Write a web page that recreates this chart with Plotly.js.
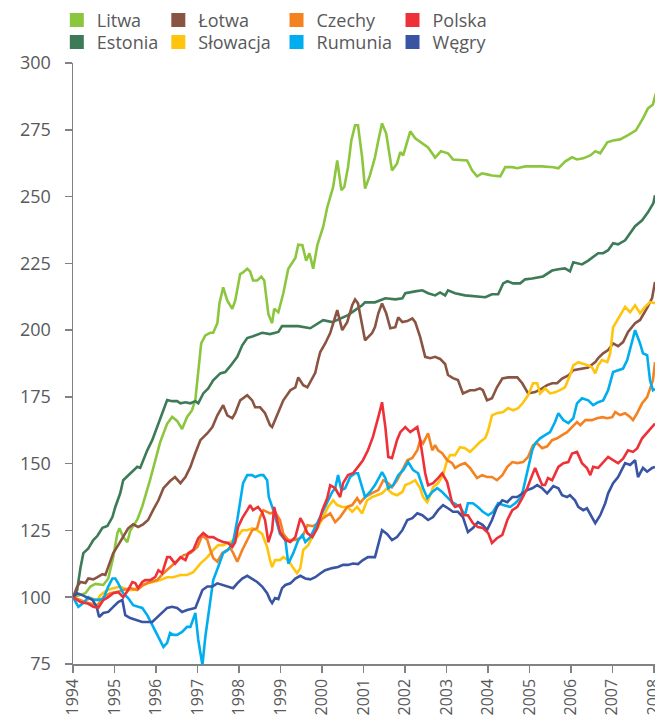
<!DOCTYPE html>
<html><head><meta charset="utf-8">
<script src="https://cdn.plot.ly/plotly-3.0.1.min.js"></script>
<style>html,body{margin:0;padding:0;background:#fff}#chart{width:655px;height:720px}</style>
</head><body><div id="chart"></div>
<script>
// tick labels
const years = [1994,1995,1996,1997,1998,1999,2000,2001,2002,2003,2004,2005,2006,2007,2008];
const yTicks = [75,100,125,150,175,200,225,250,275,300];

// series: [year, index value]
const litwa = [[1994.0,100],[1994.30,101.5],[1994.42,104],[1994.54,105],[1994.73,104.6],[1994.85,107],[1994.97,115],[1995.07,124],[1995.12,125.8],[1995.21,122.5],[1995.31,120.6],[1995.38,125],[1995.55,129],[1995.67,134],[1995.86,144],[1995.98,151],[1996.10,158],[1996.27,165],[1996.39,167.5],[1996.51,166],[1996.63,163],[1996.75,167.5],[1996.87,170],[1996.95,174],[1997.02,184],[1997.09,195],[1997.19,198],[1997.31,199],[1997.38,199],[1997.48,202.6],[1997.53,210],[1997.62,216],[1997.72,211],[1997.84,208],[1997.91,211],[1998.03,221],[1998.10,221.6],[1998.20,223],[1998.27,222],[1998.34,218.6],[1998.44,218.6],[1998.54,220],[1998.61,218.6],[1998.71,206],[1998.80,202.6],[1998.85,208],[1998.95,206.7],[1999.07,213.8],[1999.19,223],[1999.36,227],[1999.43,232],[1999.53,231.8],[1999.62,226],[1999.70,228.8],[1999.79,223],[1999.89,231.8],[2000.03,238.6],[2000.13,246],[2000.27,253.5],[2000.37,263.5],[2000.47,252.4],[2000.54,253.6],[2000.63,261],[2000.71,271],[2000.80,276.7],[2000.87,276.7],[2000.97,264.7],[2001.04,253],[2001.16,258],[2001.28,264.7],[2001.36,271],[2001.45,277.4],[2001.55,273.6],[2001.65,263.5],[2001.69,259.8],[2001.81,262.3],[2001.89,266.6],[2001.96,265.4],[2002.13,274.4],[2002.25,271.8],[2002.42,269.9],[2002.56,268.4],[2002.73,264.6],[2002.87,267],[2003.04,266.2],[2003.16,263.9],[2003.50,263.5],[2003.62,259.8],[2003.74,257.6],[2003.86,258.7],[2003.98,258.3],[2004.10,257.9],[2004.30,257.6],[2004.42,261],[2004.59,261],[2004.71,260.6],[2004.90,261.3],[2005.31,261.3],[2005.58,261],[2005.70,260.6],[2005.87,263.2],[2006.03,264.7],[2006.15,263.9],[2006.30,264.3],[2006.47,265.4],[2006.59,267],[2006.71,266.2],[2006.88,270.3],[2007.02,271],[2007.19,271.4],[2007.38,273],[2007.57,274.8],[2007.74,279.3],[2007.86,283],[2007.98,284.5],[2008.05,288.6]];

const estonia = [[1994.0,100],[1994.10,102.7],[1994.18,111],[1994.25,116.5],[1994.37,118.3],[1994.49,121.4],[1994.59,123],[1994.71,126],[1994.83,126.7],[1994.95,130],[1995.02,133.8],[1995.14,139],[1995.21,143.8],[1995.33,145.7],[1995.45,147.6],[1995.55,148.8],[1995.62,148.4],[1995.69,151.3],[1995.79,155],[1995.91,158.8],[1996.03,163.7],[1996.15,168.8],[1996.27,173.8],[1996.39,173.4],[1996.51,173.4],[1996.59,172.6],[1996.71,173],[1996.83,172.6],[1996.95,173.4],[1997.02,172.6],[1997.14,176.3],[1997.26,178.2],[1997.38,181.2],[1997.55,183.8],[1997.67,184.3],[1997.79,186.5],[1997.96,190],[1998.08,194.3],[1998.20,197],[1998.34,197.7],[1998.56,199],[1998.75,198.5],[1998.95,199.3],[1999.04,201.5],[1999.43,201.5],[1999.72,200.7],[2000.03,203.7],[2000.25,203],[2000.49,204.8],[2000.63,205.6],[2000.80,207.5],[2000.97,209.3],[2001.04,210.4],[2001.28,210.4],[2001.53,211.9],[2001.77,211.5],[2001.94,211.9],[2002.01,213.8],[2002.25,214.5],[2002.42,214.9],[2002.56,213.8],[2002.73,213],[2002.85,214.1],[2002.97,213],[2003.04,214.9],[2003.21,213.8],[2003.45,213],[2003.69,212.7],[2003.94,212.3],[2004.10,213.4],[2004.25,213.4],[2004.37,217.5],[2004.47,218.3],[2004.61,217.5],[2004.78,217.5],[2004.90,219],[2005.07,219.3],[2005.33,220.1],[2005.55,222.3],[2005.70,222.8],[2005.86,223.1],[2005.98,222],[2006.06,225.4],[2006.27,224.6],[2006.42,226],[2006.66,228.8],[2006.78,228.8],[2006.90,229.9],[2007.02,232.5],[2007.14,232.1],[2007.31,233.6],[2007.55,238.9],[2007.72,241.1],[2007.86,244.1],[2007.99,247.5],[2008.03,250.5]];

const lotwa = [[1994.0,100],[1994.10,104],[1994.18,105.7],[1994.30,105.3],[1994.37,107],[1994.49,106.7],[1994.59,107.5],[1994.71,108.6],[1994.78,108.3],[1994.85,111.3],[1994.97,116.5],[1995.09,119.5],[1995.21,122.5],[1995.33,125.8],[1995.45,127.3],[1995.57,126.3],[1995.69,127.3],[1995.81,128.9],[1995.93,132.6],[1996.06,136.3],[1996.18,140.8],[1996.34,143.5],[1996.46,145],[1996.59,142.7],[1996.71,145],[1996.83,148.8],[1996.95,154],[1997.07,158.8],[1997.24,161.4],[1997.36,163.7],[1997.48,168.1],[1997.55,170],[1997.62,171.9],[1997.72,168.1],[1997.84,167],[1997.91,168.9],[1998.03,173.7],[1998.20,175.6],[1998.32,173.7],[1998.39,171.1],[1998.51,171.1],[1998.63,168.9],[1998.75,164.4],[1998.80,163.7],[1998.92,168.1],[1999.07,173.7],[1999.24,177.5],[1999.36,178.6],[1999.43,182.3],[1999.55,179.4],[1999.65,178.6],[1999.77,182.3],[1999.84,184],[1999.91,188.8],[1999.96,191.8],[2000.08,195],[2000.20,198.9],[2000.37,207.5],[2000.49,200],[2000.61,203],[2000.73,209.3],[2000.80,211.5],[2000.87,210],[2001.04,196.2],[2001.21,198.9],[2001.28,201.1],[2001.36,206.3],[2001.45,210],[2001.55,206.3],[2001.65,200.7],[2001.77,201.1],[2001.84,204.8],[2001.94,203],[2002.06,203.4],[2002.18,204.4],[2002.25,203],[2002.37,197.4],[2002.49,190],[2002.61,189.5],[2002.73,190],[2002.85,189.2],[2002.97,187.3],[2003.04,183.2],[2003.16,182],[2003.28,181.3],[2003.40,176.3],[2003.57,177.5],[2003.69,177.5],[2003.81,178.2],[2003.88,177.5],[2003.98,173.7],[2004.10,174.5],[2004.22,178.6],[2004.35,181.9],[2004.49,182.3],[2004.71,182.3],[2004.83,180.1],[2004.97,176.3],[2005.14,176.8],[2005.31,178.2],[2005.43,179.4],[2005.55,180.1],[2005.67,180.1],[2005.79,181.9],[2005.94,183],[2006.06,185],[2006.27,185.6],[2006.42,186],[2006.59,188],[2006.66,189.5],[2006.78,191.3],[2006.90,192.5],[2007.02,195],[2007.14,194],[2007.26,195.5],[2007.38,199.3],[2007.55,202.6],[2007.67,203.8],[2007.84,208.3],[2007.96,212],[2008.03,218]];

const czechy = [[1994.0,100],[1994.18,99],[1994.37,97.8],[1994.59,97],[1994.73,100],[1994.90,101.5],[1995.07,102],[1995.21,102.7],[1995.38,103.4],[1995.55,102.7],[1995.69,104.6],[1995.86,105.7],[1996.03,106.4],[1996.18,109],[1996.34,111.3],[1996.51,113.9],[1996.66,115.7],[1996.83,116.5],[1997.00,118.8],[1997.12,123.3],[1997.24,121.4],[1997.31,117.7],[1997.38,114.7],[1997.48,113.3],[1997.60,116.6],[1997.72,117.7],[1997.79,118.4],[1997.86,116.6],[1997.96,113.3],[1998.08,117.7],[1998.20,121.4],[1998.32,125.1],[1998.44,125.9],[1998.51,130],[1998.59,132.6],[1998.75,131.4],[1998.87,131.8],[1998.99,128.9],[1999.07,123.7],[1999.19,121.4],[1999.36,121.4],[1999.53,122.5],[1999.65,127],[1999.79,126.6],[1999.91,127.7],[2000.03,129.6],[2000.20,131.4],[2000.32,128.1],[2000.44,130],[2000.61,133.8],[2000.73,134.5],[2000.85,137.1],[2000.92,135.3],[2001.04,137.5],[2001.21,139],[2001.36,140.1],[2001.48,143.8],[2001.60,142.7],[2001.69,141.2],[2001.81,143.8],[2001.94,147.6],[2002.06,151.3],[2002.18,152.1],[2002.30,155],[2002.37,158.8],[2002.44,157.6],[2002.56,161.4],[2002.66,155],[2002.73,156.9],[2002.80,155],[2002.90,153.9],[2003.02,151.3],[2003.14,150.2],[2003.21,148.4],[2003.33,149.5],[2003.45,150.2],[2003.57,148.4],[2003.74,144.6],[2003.86,145.7],[2003.98,145],[2004.10,145],[2004.22,143.8],[2004.35,145.7],[2004.47,148.8],[2004.59,150.6],[2004.71,150.2],[2004.85,150.6],[2004.97,152.5],[2005.09,156.9],[2005.19,157.6],[2005.31,155.8],[2005.43,156.5],[2005.55,158.8],[2005.67,159.5],[2005.79,160.7],[2005.91,161.8],[2006.03,163.7],[2006.15,165.6],[2006.23,164.4],[2006.35,166.3],[2006.51,166.3],[2006.63,167],[2006.76,167.4],[2006.88,167],[2007.00,167.4],[2007.07,169.3],[2007.19,168.2],[2007.31,168.9],[2007.43,167.5],[2007.50,166.3],[2007.60,168.9],[2007.72,172.6],[2007.84,174.9],[2007.91,178.2],[2007.98,181.2],[2008.03,188]];

const polska = [[1994.0,100],[1994.18,98.2],[1994.35,97.7],[1994.49,96.4],[1994.61,96],[1994.73,98.9],[1994.85,100],[1994.97,101.5],[1995.09,101.9],[1995.21,100],[1995.33,102.7],[1995.43,105.7],[1995.50,105.3],[1995.57,103.4],[1995.67,105.7],[1995.74,106.4],[1995.86,106.4],[1995.98,107.5],[1996.06,110.1],[1996.15,109],[1996.27,115],[1996.34,115],[1996.46,112.6],[1996.59,115],[1996.71,113.9],[1996.78,116.5],[1996.90,117.7],[1997.02,122.1],[1997.14,124],[1997.26,122.5],[1997.38,122.5],[1997.50,121.4],[1997.62,120.7],[1997.74,120.3],[1997.84,118.8],[1997.91,120.6],[1997.98,126.3],[1998.08,129.6],[1998.20,132.6],[1998.27,134.5],[1998.34,132.6],[1998.46,133.8],[1998.56,131.8],[1998.63,128.9],[1998.71,120.6],[1998.80,125.1],[1998.85,133.8],[1998.92,128.9],[1998.99,124.4],[1999.12,121.4],[1999.24,120.7],[1999.36,122.5],[1999.48,129.6],[1999.55,127.7],[1999.65,124],[1999.77,122.5],[1999.89,125.9],[2000.01,132.6],[2000.13,137.1],[2000.20,141.9],[2000.32,140.8],[2000.44,137.5],[2000.51,142.7],[2000.63,145.7],[2000.75,146.4],[2000.87,148.8],[2000.99,151.3],[2001.11,155],[2001.23,160],[2001.36,167.4],[2001.45,173],[2001.53,163.7],[2001.60,152.5],[2001.69,152.1],[2001.81,158.8],[2001.89,161.8],[2002.01,163.7],[2002.13,161.8],[2002.30,163.7],[2002.37,158.8],[2002.49,146.4],[2002.56,141.9],[2002.68,142.7],[2002.80,144.6],[2002.90,146.4],[2003.02,143.1],[2003.14,135.3],[2003.21,133.8],[2003.33,134.5],[2003.40,130.7],[2003.52,130.7],[2003.64,127.7],[2003.76,126.3],[2003.88,125.9],[2004.01,124],[2004.10,120.3],[2004.22,122.1],[2004.35,123.3],[2004.47,128.9],[2004.59,132.6],[2004.71,133.8],[2004.83,137.1],[2004.95,140.8],[2005.07,145.7],[2005.14,148.4],[2005.21,145.7],[2005.31,142],[2005.38,142],[2005.45,144.6],[2005.55,143.8],[2005.62,146.4],[2005.70,148.8],[2005.82,150.2],[2005.94,150.6],[2006.03,153.8],[2006.15,154.4],[2006.27,150.2],[2006.39,148.4],[2006.47,145.7],[2006.54,148.8],[2006.66,148.4],[2006.78,150.6],[2006.90,152.5],[2007.02,151.3],[2007.14,150.2],[2007.26,151.9],[2007.38,155],[2007.50,154.4],[2007.60,155.7],[2007.72,159.5],[2007.84,161.8],[2007.96,163.7],[2008.03,165]];

const slowacja = [[1994.0,100],[1994.25,98.2],[1994.42,99.7],[1994.59,99],[1994.66,100.8],[1994.83,102.7],[1994.97,103.4],[1995.14,104],[1995.31,102.7],[1995.45,102.7],[1995.62,104],[1995.79,105.2],[1995.93,105.7],[1996.10,106.4],[1996.27,107.5],[1996.42,107.5],[1996.59,108.3],[1996.75,108.3],[1996.90,109.4],[1997.07,112.6],[1997.24,115],[1997.38,117.7],[1997.50,119.5],[1997.62,119.5],[1997.79,120.6],[1997.96,122.5],[1998.08,125.1],[1998.20,125.1],[1998.32,125.8],[1998.44,125.1],[1998.56,123.7],[1998.68,118.8],[1998.75,113.9],[1998.80,111.3],[1998.87,113.9],[1998.99,113.9],[1999.07,115],[1999.19,113.9],[1999.31,110.9],[1999.40,109],[1999.48,110.9],[1999.55,117.7],[1999.67,119.5],[1999.79,123.3],[1999.91,126.3],[2000.03,130],[2000.15,133.8],[2000.27,136.3],[2000.37,134.5],[2000.49,133.8],[2000.61,133.8],[2000.73,132],[2000.85,133.8],[2000.97,131.4],[2001.09,136.3],[2001.21,137.5],[2001.33,138.2],[2001.45,138.9],[2001.57,140.8],[2001.69,138.9],[2001.81,138.2],[2001.94,139.4],[2002.01,142],[2002.13,142.7],[2002.25,143.8],[2002.37,140.8],[2002.44,137.5],[2002.54,135.6],[2002.61,138.2],[2002.68,141.2],[2002.80,142.7],[2002.92,145.7],[2003.02,151.3],[2003.09,153.2],[2003.21,153.2],[2003.33,156.2],[2003.45,155.8],[2003.57,154.4],[2003.69,156.2],[2003.81,158.1],[2003.94,159.6],[2004.01,162.5],[2004.10,168.1],[2004.22,168.9],[2004.37,169.3],[2004.49,170.8],[2004.61,170],[2004.73,170.8],[2004.84,172.6],[2004.97,175.6],[2005.09,180.1],[2005.19,180.1],[2005.26,176.3],[2005.38,178.2],[2005.50,176.3],[2005.62,176.7],[2005.74,177.5],[2005.86,178.6],[2005.98,183],[2006.06,186.8],[2006.18,188],[2006.30,187.5],[2006.42,186.8],[2006.51,186.1],[2006.59,183.8],[2006.66,186.8],[2006.75,188.8],[2006.88,188],[2006.95,191.3],[2007.02,201],[2007.14,204.4],[2007.31,208.7],[2007.43,206.7],[2007.55,209.3],[2007.67,206.3],[2007.79,208.7],[2007.91,210.5],[2008.03,210.1]];

const rumunia = [[1994.0,100],[1994.13,96.4],[1994.25,97.8],[1994.37,100],[1994.49,99],[1994.61,99],[1994.73,99.3],[1994.85,104],[1994.95,107],[1995.02,107],[1995.09,105.2],[1995.21,101.5],[1995.33,99.7],[1995.45,97],[1995.57,96.4],[1995.67,96],[1995.79,93.3],[1995.93,88.9],[1996.06,84.8],[1996.18,81.4],[1996.27,82.9],[1996.34,86.6],[1996.42,85.9],[1996.51,85.9],[1996.63,87],[1996.75,88.9],[1996.83,88.9],[1996.95,94.1],[1997.02,84],[1997.12,74.6],[1997.19,85.2],[1997.31,99],[1997.38,106.4],[1997.50,111.3],[1997.62,116.5],[1997.74,117.7],[1997.86,120.7],[1997.96,128.9],[1998.03,135.2],[1998.10,142.7],[1998.20,145.7],[1998.32,145.7],[1998.39,145],[1998.51,145.7],[1998.59,145.7],[1998.68,143.8],[1998.72,137.5],[1998.83,132.6],[1998.99,123.7],[1999.12,121.4],[1999.19,112.6],[1999.31,116.5],[1999.43,121.4],[1999.53,123.3],[1999.60,120.7],[1999.72,122.5],[1999.84,126.3],[1999.96,130],[2000.08,133.8],[2000.25,139.4],[2000.32,140.8],[2000.39,145.7],[2000.47,140.1],[2000.56,140.8],[2000.68,145],[2000.80,146.4],[2000.87,146.4],[2001.04,137.5],[2001.16,139.4],[2001.28,142],[2001.45,146.8],[2001.53,144.6],[2001.60,140.8],[2001.72,142],[2001.84,145.7],[2001.96,147.6],[2002.08,150.6],[2002.20,147.6],[2002.32,146.4],[2002.44,140.8],[2002.54,137.1],[2002.66,139.4],[2002.78,140.8],[2002.90,139.4],[2003.02,137.5],[2003.14,135.6],[2003.26,134.5],[2003.33,133.8],[2003.45,130.7],[2003.52,135.2],[2003.64,135.2],[2003.76,133.8],[2003.88,132],[2004.01,130.7],[2004.13,132],[2004.25,135.2],[2004.37,134.5],[2004.54,133.8],[2004.66,135.2],[2004.78,137.1],[2004.85,140.1],[2004.95,146.4],[2005.07,155],[2005.14,157.6],[2005.26,159.5],[2005.38,160.7],[2005.50,161.8],[2005.62,165.6],[2005.70,168.9],[2005.82,166.3],[2005.94,165.2],[2006.06,167],[2006.15,172.6],[2006.27,174.5],[2006.42,173.7],[2006.54,171.9],[2006.66,173],[2006.78,173.7],[2006.90,177.5],[2007.02,184.3],[2007.14,185],[2007.26,185.6],[2007.36,188.8],[2007.43,193.2],[2007.55,200],[2007.67,195],[2007.74,191.3],[2007.84,190.6],[2007.91,181.2],[2007.98,177.5],[2008.03,178]];

const wegry = [[1994.0,100],[1994.10,101.5],[1994.22,100.8],[1994.35,99.7],[1994.47,99],[1994.57,96.4],[1994.63,92.6],[1994.73,94.1],[1994.85,94.5],[1994.97,96.4],[1995.09,98.2],[1995.19,99],[1995.26,93.3],[1995.38,92.2],[1995.50,91.5],[1995.67,90.7],[1995.91,90.7],[1996.03,92.6],[1996.15,94.5],[1996.27,96],[1996.39,96.4],[1996.51,96],[1996.63,94.5],[1996.75,95.2],[1996.95,96],[1997.02,99],[1997.12,102.7],[1997.24,104],[1997.36,104],[1997.48,105.2],[1997.62,104.6],[1997.74,104],[1997.86,103.4],[1997.96,105.2],[1998.08,107],[1998.20,108],[1998.32,107],[1998.44,105.7],[1998.56,104],[1998.68,101.5],[1998.75,99],[1998.80,97.8],[1998.87,99.7],[1998.95,99.3],[1999.04,103.4],[1999.12,104.6],[1999.24,105.2],[1999.36,107],[1999.48,108],[1999.60,107],[1999.72,106.7],[1999.84,107.5],[1999.96,108.9],[2000.08,110.1],[2000.25,110.9],[2000.39,111.3],[2000.51,112.1],[2000.63,112.1],[2000.75,112.6],[2000.87,112.4],[2000.99,113.9],[2001.11,115],[2001.28,115],[2001.45,125.1],[2001.57,123.7],[2001.69,121.4],[2001.81,122.5],[2001.94,125.1],[2002.06,128.9],[2002.18,129.6],[2002.30,131.4],[2002.42,130.7],[2002.56,128.9],[2002.68,130],[2002.80,132.6],[2002.92,134.5],[2003.04,133.3],[2003.16,132],[2003.28,132],[2003.40,130],[2003.52,124.4],[2003.64,125.9],[2003.76,128.1],[2003.88,127],[2003.98,125.1],[2004.10,128.9],[2004.22,133.8],[2004.35,136.3],[2004.47,135.6],[2004.59,137.5],[2004.71,137.5],[2004.83,138.9],[2004.95,140.1],[2005.07,140.8],[2005.19,142],[2005.31,140.8],[2005.43,138.9],[2005.58,141.6],[2005.70,140.8],[2005.79,138.2],[2005.91,137.5],[2005.98,138.2],[2006.10,136.3],[2006.18,133.8],[2006.30,132.6],[2006.39,133.3],[2006.51,129.6],[2006.59,127.7],[2006.71,130.7],[2006.83,135.2],[2006.90,138.9],[2007.02,142.7],[2007.14,145],[2007.31,150.2],[2007.43,149.5],[2007.55,151.3],[2007.62,145],[2007.74,148.4],[2007.84,147],[2007.96,148.4],[2008.03,148.8]];

const names = ['Litwa','Estonia','Łotwa','Słowacja','Czechy','Rumunia','Polska','Węgry'];
const dataByName = {'Litwa':litwa,'Estonia':estonia,'Łotwa':lotwa,'Słowacja':slowacja,'Czechy':czechy,'Rumunia':rumunia,'Polska':polska,'Węgry':wegry};
const colors = {'Litwa':'#8CC63F','Estonia':'#3D7A57','Łotwa':'#8A5442','Słowacja':'#FFC40C','Czechy':'#F58220','Rumunia':'#00AEEF','Polska':'#EE3138','Węgry':'#3A54A4'};
// drawing order (last on top)
const drawOrder = ['Litwa','Estonia','Łotwa','Słowacja','Czechy','Rumunia','Węgry','Polska'];
// legend grid: [column, row]
const legendGrid = {'Litwa':[0,0],'Estonia':[0,1],'Łotwa':[1,0],'Słowacja':[1,1],'Czechy':[2,0],'Rumunia':[2,1],'Polska':[3,0],'Węgry':[3,1]};
const legendColX = [-0.0278, 0.1466, 0.3497, 0.5490];
const legendRowY = [1.1018, 1.0652];

const FONT = 'Open Sans, Liberation Sans, Arial, sans-serif';
const TXT = '#58595B';
const AX = '#808285';

const traces = [];
drawOrder.forEach(n => {
  const d = dataByName[n];
  traces.push({type:'scatter', mode:'lines', name:n, x:d.map(p=>p[0]), y:d.map(p=>p[1]),
    line:{color:colors[n], width:2.6}, showlegend:false, hoverinfo:'skip'});
});
const layout = {
  width:655, height:720,
  margin:{l:73, r:0, t:63, b:56},
  paper_bgcolor:'#fff', plot_bgcolor:'#fff',
  font:{family:FONT, size:18, color:TXT},
  xaxis:{range:[1994, 2008.03], tickmode:'array', tickvals:years, ticktext:years.map(String),
    tickangle:-90, ticks:'outside', ticklen:7, tickwidth:1.5, tickcolor:AX, ticklabeloverflow:'allow',
    showline:true, linecolor:AX, linewidth:1.5, showgrid:false, zeroline:false,
    tickfont:{family:FONT, size:16, color:TXT}},
  yaxis:{range:[75,300], tickmode:'array', tickvals:yTicks, ticks:'outside', ticklen:7, tickwidth:1.5, tickcolor:AX,
    showline:true, linecolor:AX, linewidth:1.5, showgrid:false, zeroline:false, ticklabelstandoff:10,
    tickfont:{family:FONT, size:18, color:TXT}}
};
names.forEach((n,i) => {
  const key = i===0 ? 'legend' : 'legend'+(i+1);
  const g = legendGrid[n];
  traces.push({type:'scatter', mode:'markers', name:n, x:[null], y:[null],
    marker:{symbol:'square', size:14, color:colors[n]}, showlegend:true, legend:key, hoverinfo:'skip'});
  layout[key] = {x:legendColX[g[0]], y:legendRowY[g[1]], xanchor:'left', yanchor:'top',
    bgcolor:'rgba(0,0,0,0)', borderwidth:0, font:{family:FONT, size:18, color:TXT}};
});
Plotly.newPlot('chart', traces, layout, {staticPlot:true, displayModeBar:false});
</script></body></html>
